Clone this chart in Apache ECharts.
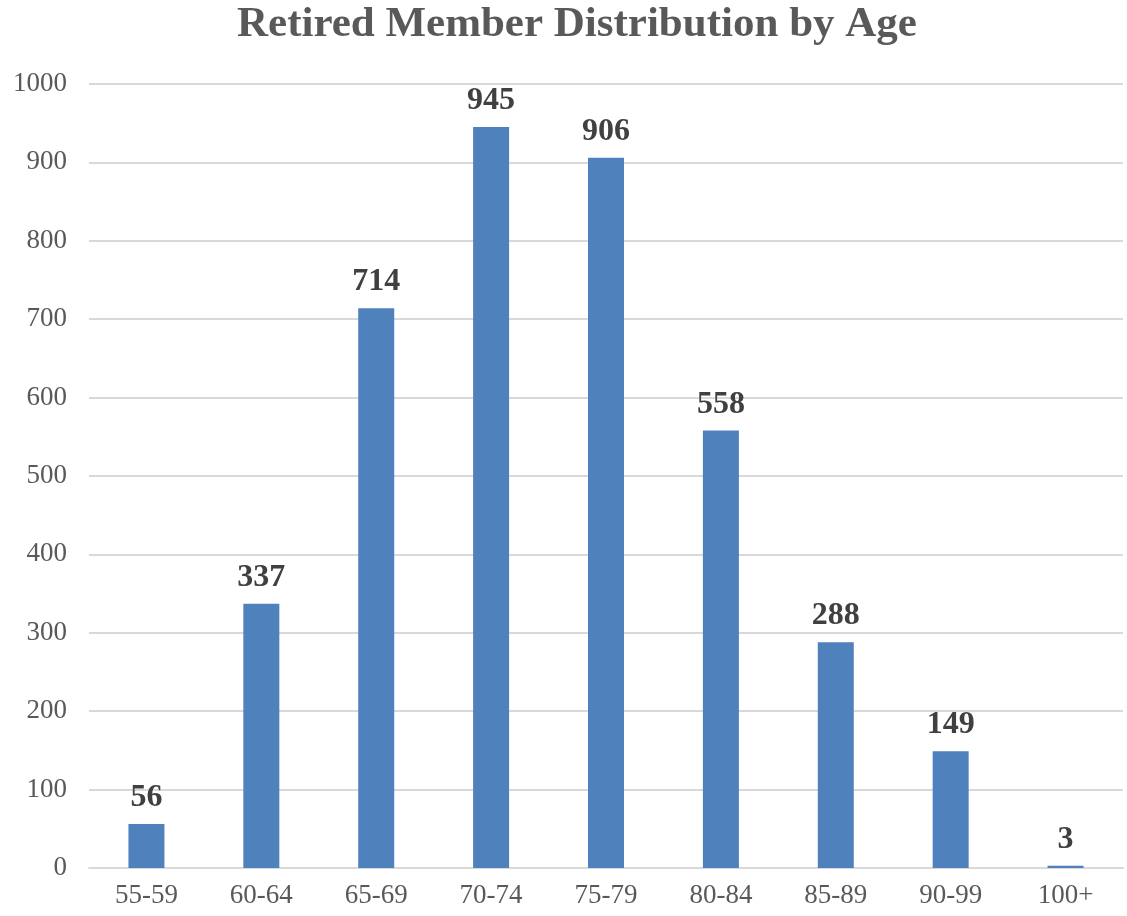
<!DOCTYPE html>
<html>
<head>
<meta charset="utf-8">
<script src="https://cdn.jsdelivr.net/npm/echarts@6/dist/echarts.min.js"></script>
<style>html,body{margin:0;padding:0;background:#fff}#c{width:1127px;height:916px}</style>
</head>
<body>
<div id="c"></div>
<script>
const titleText = 'Retired Member Distribution by Age';
const categories = ['55-59','60-64','65-69','70-74','75-79','80-84','85-89','90-99','100+'];
const members = [56, 337, 714, 945, 906, 558, 288, 149, 3];
const yTicks = { min: 0, max: 1000, interval: 100 };

const chart = echarts.init(document.getElementById('c'), null, {renderer: 'canvas'});
const serif = '"Liberation Serif", "DejaVu Serif", serif';
chart.setOption({
  animation: false,
  backgroundColor: '#ffffff',
  title: {
    text: titleText,
    left: 232,
    top: -2,
    textStyle: { fontFamily: serif, fontSize: 43, fontWeight: 'bold', color: '#595959' }
  },
  grid: { left: 89, right: 4, top: 84, bottom: 48, containLabel: false },
  xAxis: {
    type: 'category',
    data: categories,
    axisLine: { show: true, lineStyle: { color: '#d9d9d9', width: 2 } },
    axisTick: { show: false },
    axisLabel: { fontFamily: serif, fontSize: 27, color: '#595959', margin: 14 }
  },
  yAxis: {
    type: 'value',
    min: yTicks.min, max: yTicks.max, interval: yTicks.interval,
    axisLine: { show: false },
    axisTick: { show: false },
    splitLine: { lineStyle: { color: '#d9d9d9', width: 2 } },
    axisLabel: { fontFamily: serif, fontSize: 27, color: '#595959', margin: 22, formatter: v => String(v) }
  },
  series: [{
    type: 'bar',
    data: members,
    barWidth: 36,
    itemStyle: { color: '#4f81bd' },
    label: {
      show: true, position: 'top', distance: 10,
      fontFamily: serif, fontSize: 32, fontWeight: 'bold', color: '#404040'
    }
  }]
});
</script>
</body>
</html>
